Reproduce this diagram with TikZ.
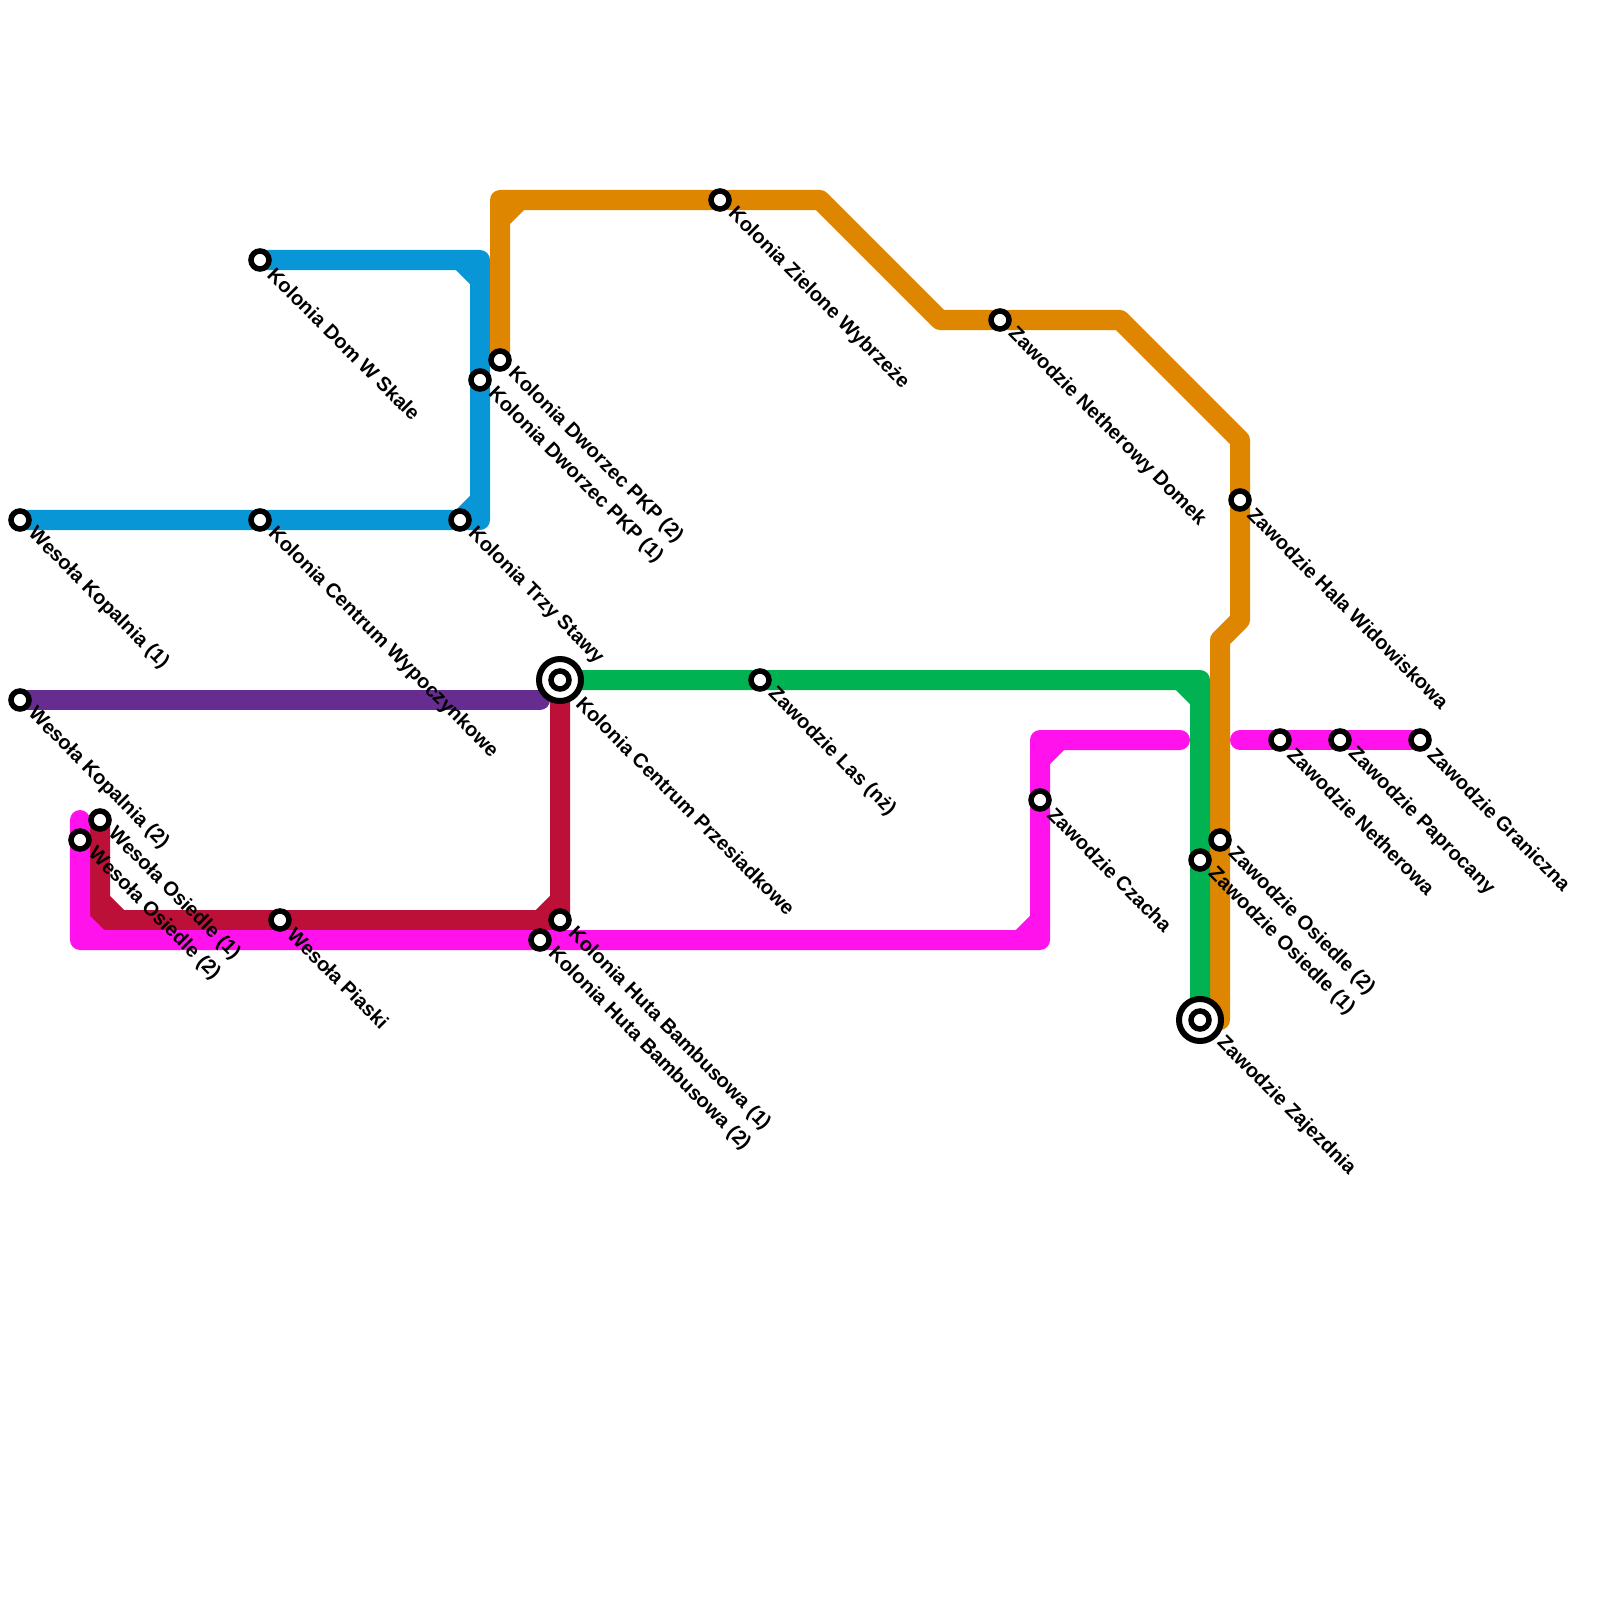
\documentclass[tikz,border=0pt]{standalone}
\usepackage{fontspec}
\setmainfont{Liberation Sans}
\definecolor{lineblue}{HTML}{0896D7}
\definecolor{lineorange}{HTML}{DF8600}
\definecolor{linegreen}{HTML}{00B251}
\definecolor{linepurple}{HTML}{662C90}
\definecolor{linered}{HTML}{BD1038}
\definecolor{linepink}{HTML}{FF12EC}
\usetikzlibrary{backgrounds}

\begin{document}
\begin{tikzpicture}[x=0.01cm,y=-0.01cm,
    route/.style={line width=0.2cm,line cap=round,line join=round},
    stop/.style={circle,draw=black,fill=white,line width=0.055cm,minimum size=0.18cm,inner sep=0pt},
    hub/.style={circle,draw=black,fill=white,line width=0.06cm,minimum size=0.42cm,inner sep=0pt},
    stoplabel/.style={rotate=-45,anchor=west,inner ysep=0pt,inner xsep=0.035cm,font=\bfseries\fontsize{5.69pt}{7pt}\selectfont}]
  \useasboundingbox (0,0) rectangle (1600,1600);

  % stops
  \node[stop] (kopalniaA) at (20,520) {};
  \node[stop] (kopalniaB) at (20,700) {};
  \node[stop] (wesOsiedleA) at (100,820) {};
  \node[stop] (wesOsiedleB) at (80,840) {};
  \node[stop] (piaski) at (280,920) {};
  \node[stop] (domSkale) at (260,260) {};
  \node[stop] (wypoczynkowe) at (260,520) {};
  \node[stop] (trzyStawy) at (460,520) {};
  \node[stop] (dworzecA) at (480,380) {};
  \node[stop] (dworzecB) at (500,360) {};
  \node[stop] (wybrzeze) at (720,200) {};
  \node[stop] (domek) at (1000,320) {};
  \node[stop] (hala) at (1240,500) {};
  \node[hub] (przesiadkowe) at (560,680) {};
  \node[stop] (przesiadkoweIn) at (560,680) {};
  \node[stop] (las) at (760,680) {};
  \node[stop] (czacha) at (1040,800) {};
  \node[stop] (netherowa) at (1280,740) {};
  \node[stop] (paprocany) at (1340,740) {};
  \node[stop] (graniczna) at (1420,740) {};
  \node[stop] (zawOsiedleB) at (1220,840) {};
  \node[stop] (zawOsiedleA) at (1200,860) {};
  \node[hub] (zajezdnia) at (1200,1020) {};
  \node[stop] (zajezdniaIn) at (1200,1020) {};
  \node[stop] (hutaA) at (560,920) {};
  \node[stop] (hutaB) at (540,940) {};

  % labels
  \node[stoplabel] (kopalniaAt) at (kopalniaA.south east) {Wesoła Kopalnia (1)};
  \node[stoplabel] (kopalniaBt) at (kopalniaB.south east) {Wesoła Kopalnia (2)};
  \node[stoplabel] (wesOsiedleAt) at (wesOsiedleA.south east) {Wesoła Osiedle (1)};
  \node[stoplabel] (wesOsiedleBt) at (wesOsiedleB.south east) {Wesoła Osiedle (2)};
  \node[stoplabel] (piaskit) at (piaski.south east) {Wesoła Piaski};
  \node[stoplabel] (domSkalet) at (domSkale.south east) {Kolonia Dom W Skale};
  \node[stoplabel] (wypoczynkowet) at (wypoczynkowe.south east) {Kolonia Centrum Wypoczynkowe};
  \node[stoplabel] (trzyStawyt) at (trzyStawy.south east) {Kolonia Trzy Stawy};
  \node[stoplabel] (dworzecAt) at (dworzecA.south east) {Kolonia Dworzec PKP (1)};
  \node[stoplabel] (dworzecBt) at (dworzecB.south east) {Kolonia Dworzec PKP (2)};
  \node[stoplabel] (wybrzezet) at (wybrzeze.south east) {Kolonia Zielone Wybrzeże};
  \node[stoplabel] (domekt) at (domek.south east) {Zawodzie Netherowy Domek};
  \node[stoplabel] (halat) at (hala.south east) {Zawodzie Hala Widowiskowa};
  \node[stoplabel] (przesiadkowet) at (przesiadkowe.south east) {Kolonia Centrum Przesiadkowe};
  \node[stoplabel] (last) at (las.south east) {Zawodzie Las (nż)};
  \node[stoplabel] (czachat) at (czacha.south east) {Zawodzie Czacha};
  \node[stoplabel] (netherowat) at (netherowa.south east) {Zawodzie Netherowa};
  \node[stoplabel] (paprocanyt) at (paprocany.south east) {Zawodzie Paprocany};
  \node[stoplabel] (granicznat) at (graniczna.south east) {Zawodzie Graniczna};
  \node[stoplabel] (zawOsiedleBt) at (zawOsiedleB.south east) {Zawodzie Osiedle (2)};
  \node[stoplabel] (zawOsiedleAt) at (zawOsiedleA.south east) {Zawodzie Osiedle (1)};
  \node[stoplabel] (zajezdniat) at (zajezdnia.south east) {Zawodzie Zajezdnia};
  \node[stoplabel] (hutaAt) at (hutaA.south east) {Kolonia Huta Bambusowa (1)};
  \node[stoplabel] (hutaBt) at (hutaB.south east) {Kolonia Huta Bambusowa (2)};

  % bends
  \coordinate (blueA) at (480,520);
  \coordinate (blueB) at (480,260);
  \coordinate (orangeA) at (500,200);
  \coordinate (orangeB) at (820,200);
  \coordinate (orangeC) at (940,320);
  \coordinate (orangeD) at (1120,320);
  \coordinate (orangeE) at (1240,440);
  \coordinate (orangeF) at (1240,620);
  \coordinate (orangeG) at (1220,640);
  \coordinate (orangeEnd) at (1220,1020);
  \coordinate (greenA) at (1200,680);
  \coordinate (redA) at (100,920);
  \coordinate (redB) at (560,920);
  \coordinate (purpleEnd) at (540,700);
  \coordinate (pinkStart) at (80,820);
  \coordinate (pinkA) at (80,940);
  \coordinate (pinkB) at (1040,940);
  \coordinate (pinkC) at (1040,740);
  \coordinate (pinkEnd) at (1180,740);
  \coordinate (pinkStartB) at (1240,740);

  \begin{scope}[on background layer]
    \draw[route,linepurple] (kopalniaB.center) -- (purpleEnd);
    \draw[route,lineblue] (kopalniaA.center) -- (blueA) -- (blueB) -- (domSkale.center)
      (blueA) ++(-20,0) -- ++(20,-20)
      (blueB) ++(-20,0) -- ++(20,20);
    \draw[route,lineorange] (dworzecB.center) -- (orangeA) -- (orangeB) -- (orangeC) -- (orangeD)
      -- (orangeE) -- (orangeF) -- (orangeG) -- (orangeEnd)
      (orangeA) ++(0,20) -- ++(20,-20);
    \draw[route,linegreen] (przesiadkowe.center) -- (greenA) -- (zajezdnia.center)
      (greenA) ++(-20,0) -- ++(20,20);
    \draw[route,linered] (przesiadkowe.center) -- (redB) -- (redA) -- (wesOsiedleA.center)
      (redA) ++(0,-20) -- ++(20,20)
      (redB) ++(-20,0) -- ++(20,-20);
    \draw[route,linepink] (pinkStart) -- (pinkA) -- (pinkB) -- (pinkC) -- (pinkEnd)
      (pinkA) ++(0,-20) -- ++(20,20)
      (pinkB) ++(-20,0) -- ++(20,-20)
      (pinkC) ++(0,20) -- ++(20,-20);
    \draw[route,linepink] (pinkStartB) -- (graniczna.center);
  \end{scope}
\end{tikzpicture}
\end{document}
